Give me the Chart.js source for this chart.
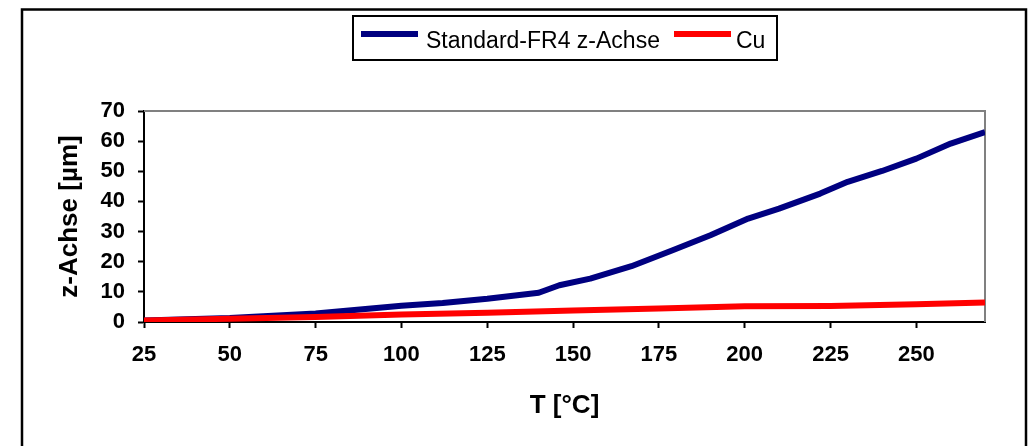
<!DOCTYPE html>
<html>
<head>
<meta charset="utf-8">
<script src="https://cdn.jsdelivr.net/npm/chart.js@4/dist/chart.umd.min.js"></script>
<style>
  html, body { margin: 0; padding: 0; background: #fff; }
  #wrap { width: 1030px; height: 446px; }
</style>
</head>
<body>
<div id="wrap"><canvas id="chart" width="1030" height="446"></canvas></div>
<script>
// Daten
const fr4Temp = [25, 50, 75, 100, 112, 125, 140, 146, 155, 167, 179, 190, 201, 210, 222, 230, 240, 250, 260, 270];
const fr4Z = [0.5, 1.3, 2.8, 5.4, 6.3, 7.7, 9.7, 12.2, 14.4, 18.5, 23.8, 28.8, 34.3, 37.6, 42.6, 46.5, 50.1, 54.2, 59.2, 63.0];
const cuTemp = [25, 50, 75, 100, 125, 150, 175, 200, 225, 250, 270];
const cuZ = [0.5, 1.1, 1.7, 2.5, 3.1, 3.8, 4.5, 5.2, 5.3, 5.9, 6.5];

const xTicks = [25, 50, 75, 100, 125, 150, 175, 200, 225, 250];
const legendLabels = ['Standard-FR4 z-Achse', 'Cu'];
const seriesColors = ['#000080', '#ff0000'];

const toPoints = (xs, ys) => xs.map((x, i) => ({ x: x, y: ys[i] }));

// Rahmen, graue Begrenzung und Legende
const framePlugin = {
    id: 'frame',
    beforeDatasetsDraw(chart) {
        const ctx = chart.ctx;
        const a = chart.chartArea;
        ctx.save();
        ctx.strokeStyle = '#808080';
        ctx.lineWidth = 2;
        ctx.beginPath();
        ctx.moveTo(a.left, a.top);
        ctx.lineTo(a.right, a.top);
        ctx.lineTo(a.right, a.bottom);
        ctx.stroke();
        ctx.restore();
    },
    afterDraw(chart) {
        const ctx = chart.ctx;
        ctx.save();
        // äußerer Rahmen
        ctx.strokeStyle = '#000';
        ctx.lineWidth = 2.5;
        ctx.strokeRect(22, 9.5, 1004, 600);

        // Legende
        ctx.lineWidth = 2;
        ctx.strokeRect(353, 16, 424, 44);
        ctx.font = '23px "Liberation Sans", Arial, sans-serif';
        ctx.fillStyle = '#000';
        ctx.textBaseline = 'alphabetic';
        const swatchX = [361, 674];
        const textX = [426, 736];
        for (let i = 0; i < legendLabels.length; i++) {
            ctx.fillStyle = seriesColors[i];
            ctx.fillRect(swatchX[i], 31, 57, 6);
            ctx.fillStyle = '#000';
            ctx.fillText(legendLabels[i], textX[i], 47.5);
        }
        ctx.restore();
    }
};

const ctx = document.getElementById('chart').getContext('2d');
const myChart = new Chart(ctx, {
    type: 'line',
    data: {
        datasets: [{
            label: legendLabels[0],
            data: toPoints(fr4Temp, fr4Z),
            borderColor: seriesColors[0],
            backgroundColor: seriesColors[0],
            borderWidth: 6,
            pointRadius: 0,
            tension: 0,
            borderJoinStyle: 'round',
            order: 1
        }, {
            label: legendLabels[1],
            data: toPoints(cuTemp, cuZ),
            borderColor: seriesColors[1],
            backgroundColor: seriesColors[1],
            borderWidth: 6,
            pointRadius: 0,
            tension: 0,
            borderJoinStyle: 'round',
            order: 0
        }]
    },
    options: {
        responsive: false,
        animation: false,
        devicePixelRatio: 1,
        layout: {
            padding: { left: 54, top: 111, right: 45, bottom: 25 }
        },
        plugins: {
            legend: { display: false },
            tooltip: { enabled: false }
        },
        scales: {
            x: {
                type: 'linear',
                min: 25,
                max: 270,
                afterFit: function(scale) { scale.height = 99; },
                afterBuildTicks: function(scale) {
                    scale.ticks = xTicks.map(v => ({ value: v }));
                },
                grid: {
                    drawOnChartArea: false,
                    drawTicks: true,
                    tickLength: 6,
                    tickWidth: 2,
                    tickColor: '#000'
                },
                border: { display: true, color: '#000', width: 2 },
                ticks: {
                    color: '#000',
                    padding: 14,
                    maxRotation: 0,
                    font: { family: '"Liberation Sans", Arial, sans-serif', size: 22, weight: 'bold' }
                },
                title: {
                    display: true,
                    text: 'T [°C]',
                    color: '#000',
                    padding: 0,
                    font: { family: '"Liberation Sans", Arial, sans-serif', size: 26, weight: 'bold' }
                }
            },
            y: {
                min: 0,
                max: 70,
                afterFit: function(scale) { scale.width = 90; },
                grid: {
                    drawOnChartArea: false,
                    drawTicks: true,
                    tickLength: 6,
                    tickWidth: 2,
                    tickColor: '#000'
                },
                border: { display: true, color: '#000', width: 2 },
                ticks: {
                    stepSize: 10,
                    color: '#000',
                    padding: 13,
                    font: { family: '"Liberation Sans", Arial, sans-serif', size: 22, weight: 'bold' }
                },
                title: {
                    display: true,
                    text: 'z-Achse [µm]',
                    color: '#000',
                    padding: 0,
                    font: { family: '"Liberation Sans", Arial, sans-serif', size: 26, weight: 'bold' }
                }
            }
        }
    },
    plugins: [framePlugin]
});
</script>
</body>
</html>
